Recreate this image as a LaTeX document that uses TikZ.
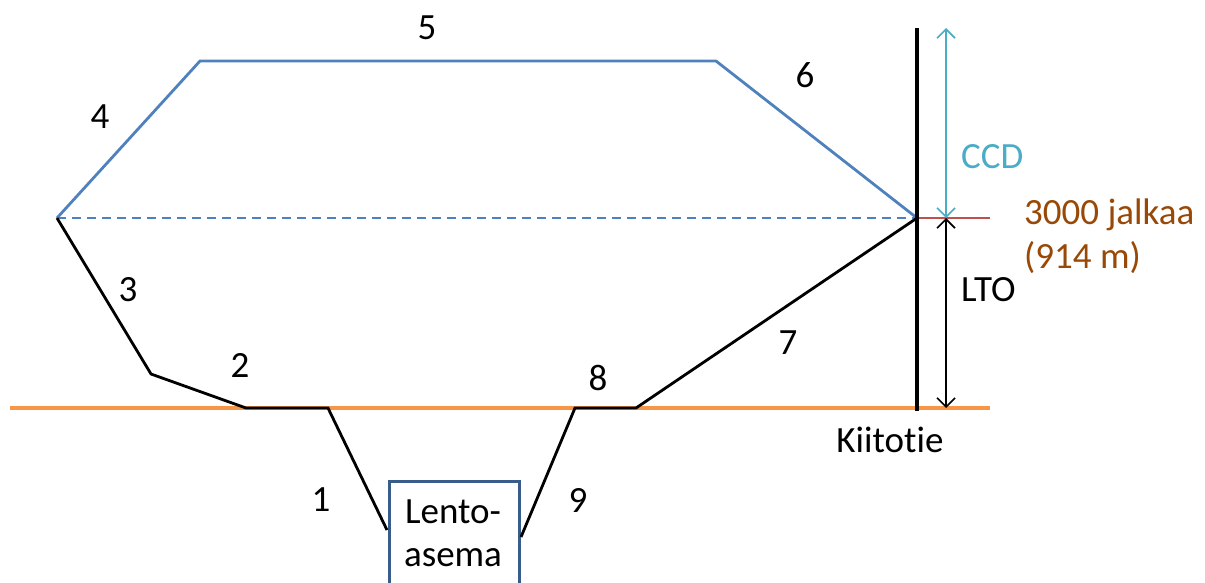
\documentclass[tikz,border=0pt]{standalone}
\usepackage{fontspec}
\setmainfont[Ligatures={NoCommon}]{Carlito}
\usetikzlibrary{arrows.meta}
\definecolor{runway}{HTML}{F79646}
\definecolor{bluep}{HTML}{4F81BD}
\definecolor{redl}{HTML}{C0504D}
\definecolor{ccdc}{HTML}{4BACC6}
\definecolor{brownt}{HTML}{984807}
\definecolor{boxc}{HTML}{385D8A}
\begin{document}
\begin{tikzpicture}[x=1pt,y=-1pt,
  lbl/.style={font=\fontsize{37}{42}\selectfont, inner sep=0pt},
  blk/.style={line width=2.8pt, black, line join=miter},
  blu/.style={line width=2.8pt, bluep},
  dimarrow/.style={line width=1.6pt, {Straight Barb[length=9pt,width=18pt,line width=1.6pt]}-{Straight Barb[length=9pt,width=18pt,line width=1.6pt]}}]
\useasboundingbox (0,0) rectangle (1205,582);
% coordinates
\coordinate (L) at (57,218);
\coordinate (P3) at (151,374);
\coordinate (P2) at (246,408);
\coordinate (P1) at (328,408);
\coordinate (B1) at (387,530);
\coordinate (B9) at (521,537);
\coordinate (P9) at (575,408);
\coordinate (P8) at (636,408);
\coordinate (R) at (917,218);
\coordinate (T4) at (200,61);
\coordinate (T6) at (716,61);
\coordinate (RE) at (990,218);
\coordinate (VT) at (917,28);
\coordinate (VB) at (917,411);
\coordinate (AT) at (946,28);
\coordinate (AM) at (946,218);
\coordinate (AB) at (946,408);
\coordinate (W0) at (10,408);
\coordinate (W1) at (990,408);
% runway
\draw[line width=4pt, runway] (W0) -- (W1);
% box
\node[draw=boxc, line width=3pt, minimum width=130pt, minimum height=140pt, anchor=north west, inner sep=0pt] (box) at (388,480) {};
\node[lbl, align=center, anchor=north] (boxt) at (453,500) {Lento-\\[1pt]asema};
% dashed
\draw[line width=1.6pt, bluep, dash pattern=on 9pt off 6pt] (L) -- (R);
% blue path
\draw[blu] (L) -- (T4) -- (T6) -- (R);
% black path
\draw[blk] (L) -- (P3) -- (P2) -- (P1) -- (B1);
\draw[blk] (B9) -- (P9) -- (P8) -- (R);
% red
\draw[line width=2.8pt, redl] (R) -- (RE);
% vertical
\draw[line width=3.8pt, black] (VT) -- (VB);
% arrows
\draw[dimarrow, ccdc] (AT) -- (AM);
\draw[dimarrow, black] (AM) -- (AB);
% labels
\node[lbl] (n5) at (427,28) {5};
\node[lbl] (n4) at (100,117) {4};
\node[lbl] (n6) at (805,75) {6};
\node[lbl] (n3) at (128,290) {3};
\node[lbl] (n2) at (240,365) {2};
\node[lbl] (n8) at (598,378) {8};
\node[lbl] (n7) at (788,343) {7};
\node[lbl] (n1) at (321,500) {1};
\node[lbl] (n9) at (578,500) {9};
\node[lbl, ccdc, anchor=west] (ccd) at (961,157) {CCD};
\node[lbl, brownt, anchor=west] (ft) at (1024,215) {3000 jalkaa};
\node[lbl, brownt, anchor=west] (m) at (1024,258) {(914 m)};
\node[lbl, anchor=west] (lto) at (961,290) {LTO};
\node[lbl] (kt) at (890,440) {Kiitotie};
\end{tikzpicture}
\end{document}
